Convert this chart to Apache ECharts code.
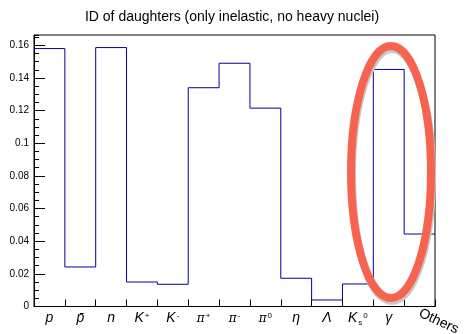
<!DOCTYPE html>
<html><head><meta charset="utf-8">
<script src="https://cdn.jsdelivr.net/npm/echarts@6/dist/echarts.min.js"></script>
<style>html,body{margin:0;padding:0;background:#fff}#c{width:464px;height:334px}</style>
</head><body><div id="c"></div>
<script>
const title = 'ID of daughters (only inelastic, no heavy nuclei)';
const categories = ['p','p̄','n','K+','K-','π+','π-','π0','η','Λ','Ks0','γ','Others'];
const tickLabels = ['{i|p}','{i|p̄}','{i|n}','{i|K}{sp|+}','{i|K}{sp|-}','{g|π}{sp|+}','{g|π}{sp|-}','{g|π}{sp|0}','{i|η}','{i|Λ}','{i|K}{sb|s}{sp|0}','{i|γ}','Others'];
const values = [0.158,0.0242,0.1586,0.015,0.0136,0.134,0.149,0.1215,0.0173,0.004,0.0138,0.1452,0.0444];
const yMax = 0.1663;

const stepData = values.map((v,i)=>[i,v]).concat([[values.length, values[values.length-1]]]);
const ff = '"Liberation Sans", Arial, sans-serif';
const rich = {
  i:{fontStyle:'italic',fontSize:14,fontFamily:ff,color:'#000',lineHeight:18},
  g:{fontStyle:'italic',fontSize:12,fontFamily:'"DejaVu Serif", serif',color:'#000',lineHeight:18},
  sp:{fontSize:8,fontFamily:ff,color:'#000',verticalAlign:'top',lineHeight:18,padding:[2,0,0,1]},
  sb:{fontSize:8,fontFamily:ff,color:'#000',verticalAlign:'bottom',lineHeight:18,padding:[0,0,1,1]}
};
const chart = echarts.init(document.getElementById('c'));
chart.setOption({
  animation:false,
  title:{text:title,left:'center',top:5,textStyle:{fontSize:14,fontWeight:'normal',color:'#000',fontFamily:ff}},
  grid:{left:34,right:29,top:35,bottom:27.5,containLabel:false,outerBoundsMode:'none',show:true,borderColor:'#000',borderWidth:1,backgroundColor:'transparent'},
  xAxis:[
    {type:'value',min:0,max:categories.length,interval:1,
     axisLine:{show:true,lineStyle:{color:'#000',width:1}},
     axisTick:{show:true,inside:true,length:7,lineStyle:{color:'#000'}},
     axisLabel:{show:false},splitLine:{show:false}},
    {type:'category',data:categories,boundaryGap:true,position:'bottom',
     axisLine:{show:false},axisTick:{show:false},splitLine:{show:false},
     axisLabel:{interval:0,margin:3,formatter:(v,idx)=>idx===categories.length-1?'':tickLabels[idx],rich:rich}},
    {type:'category',data:categories,boundaryGap:true,position:'bottom',
     axisLine:{show:false},axisTick:{show:false},splitLine:{show:false},
     axisLabel:{interval:0,margin:6,rotate:-25,fontSize:14,fontFamily:ff,color:'#000',
       formatter:(v,idx)=>idx===categories.length-1?tickLabels[idx]:''}}
  ],
  yAxis:[
    {type:'value',min:0,max:yMax,interval:0.02,
     axisLine:{show:true,lineStyle:{color:'#000'}},
     axisTick:{show:true,inside:true,length:11,lineStyle:{color:'#000'}},
     axisLabel:{showMaxLabel:false,fontSize:10,fontFamily:ff,color:'#000',margin:5},
     splitLine:{show:false}},
    {type:'value',min:0,max:yMax,interval:0.005,position:'left',
     axisLine:{show:false},
     axisTick:{show:true,inside:true,length:5,lineStyle:{color:'#000'}},
     axisLabel:{show:false},splitLine:{show:false}}
  ],
  series:[{type:'line',xAxisIndex:0,yAxisIndex:0,data:stepData,step:'end',symbol:'none',
    lineStyle:{color:'#00009c',width:1},z:3}],
  graphic:[
    {type:'ellipse',shape:{cx:392,cy:175,rx:40,ry:126},style:{fill:null,stroke:'#c8c8c8',lineWidth:8},z:100},
    {type:'ellipse',shape:{cx:391,cy:172,rx:40,ry:126},style:{fill:null,stroke:'#f8634f',lineWidth:8},z:101}
  ]
});
</script></body></html>
